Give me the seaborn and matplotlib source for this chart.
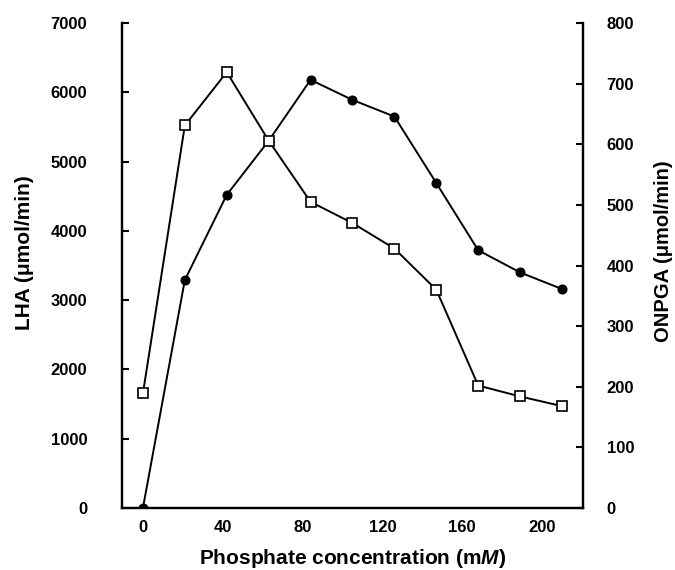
import matplotlib
matplotlib.use("Agg")
import matplotlib.pyplot as plt
import seaborn as sns
import pandas as pd

# phosphate concentration (mM)
phosphate = [0, 21, 42, 63, 84, 105, 126, 147, 168, 189, 210]
# LHA activity (umol/min), filled circles, left axis
lha = [0, 3290, 4520, 5300, 6180, 5890, 5650, 4690, 3720, 3400, 3160]
# ONPGA activity (umol/min), open squares, right axis
onpga = [189, 631, 719, 606, 505, 470, 428, 360, 202, 184, 168]

sns.set_style("white")
plt.rcParams['font.family'] = ['Liberation Sans', 'DejaVu Sans']
plt.rcParams['font.weight'] = 'bold'
plt.rcParams['text.color'] = 'black'
plt.rcParams['axes.labelcolor'] = 'black'
plt.rcParams['xtick.color'] = 'black'
plt.rcParams['ytick.color'] = 'black'
plt.rcParams['mathtext.fontset'] = 'custom'
plt.rcParams['mathtext.it'] = 'Liberation Sans:italic:bold'

df = pd.DataFrame({"x": phosphate, "lha": lha, "onpga": onpga})

fig = plt.figure(figsize=(6.75, 5.7), dpi=100)
ax = fig.add_axes([0.1807, 0.1088, 0.683, 0.8508])
ax2 = ax.twinx()

sns.lineplot(data=df, x="x", y="onpga", ax=ax2, color="black", lw=1.4,
             marker="s", markersize=6.5, markerfacecolor="white",
             markeredgecolor="black", markeredgewidth=1.2)
sns.lineplot(data=df, x="x", y="lha", ax=ax, color="black", lw=1.4,
             marker="o", markersize=6.5, markerfacecolor="black",
             markeredgecolor="black")

ax.set_xlim(-10.5, 220.5)
ax.set_ylim(0, 7000)
ax2.set_ylim(0, 800)
ax.set_xticks([0, 40, 80, 120, 160, 200])
ax.set_yticks(range(0, 7001, 1000))
ax2.set_yticks(range(0, 801, 100))

for a in (ax, ax2):
    a.spines['top'].set_visible(False)
    for s in ('left', 'right', 'bottom'):
        a.spines[s].set_linewidth(1.6)
        a.spines[s].set_color('black')

ax.tick_params(axis='y', direction='in', length=5, width=1.5, pad=25,
               labelsize=12)
ax.tick_params(axis='x', direction='in', length=5, width=1.5, pad=9,
               labelsize=12)
ax2.tick_params(axis='y', direction='in', length=5, width=1.5, pad=17,
                labelsize=12)
for lab in ax.get_xticklabels() + ax.get_yticklabels() + ax2.get_yticklabels():
    lab.set_fontweight('bold')

ax.set_xlabel(r"Phosphate concentration (m$\it{M}$)", fontsize=15,
              fontweight='bold')
ax.set_ylabel("LHA (\u03bcmol/min)", fontsize=15, fontweight='bold')
ax2.set_ylabel("ONPGA (\u03bcmol/min)", fontsize=14.5, fontweight='bold',
               rotation=90)
ax.xaxis.set_label_coords(0.5, -0.08)
ax.yaxis.set_label_coords(-0.19, 0.526)
ax2.yaxis.set_label_coords(1.154, 0.529)

fig.savefig("out.png", dpi=100)
